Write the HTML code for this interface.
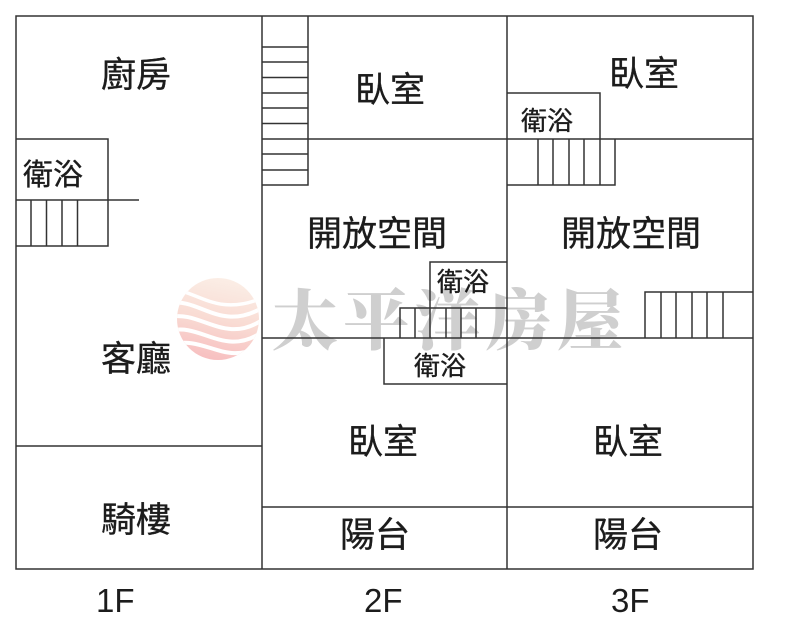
<!DOCTYPE html>
<html><head><meta charset="utf-8">
<style>
html,body{margin:0;padding:0;background:#fff;width:800px;height:639px;overflow:hidden}
svg{display:block}
.l{font-family:"Liberation Sans","Noto Sans CJK TC",sans-serif;fill:#1c1c1c;font-weight:400}
.c{stroke:#1c1c1c;stroke-width:0.35}
.w{font-family:"Liberation Serif","Noto Serif CJK SC",serif;font-weight:900;fill:#cfcfcf}
</style></head><body>
<svg width="800" height="639" viewBox="0 0 800 639" xmlns="http://www.w3.org/2000/svg">
<defs>
<linearGradient id="g" x1="0.6" y1="0" x2="0.4" y2="1">
<stop offset="0" stop-color="#fbeee6"/><stop offset="0.5" stop-color="#f9dcd4"/><stop offset="1" stop-color="#f7bfc0"/>
</linearGradient>
<clipPath id="c"><circle cx="218" cy="319" r="41"/></clipPath>
</defs>
<circle cx="218" cy="319" r="41" fill="url(#g)"/>
<g clip-path="url(#c)" fill="none" stroke="#fff" stroke-width="4">
<path d="M170 290C195 288 215 318 262 298" stroke-width="3.5"/>
<path d="M170 303C200 298 220 332 262 308"/>
<path d="M170 317C200 310 225 345 262 320"/>
<path d="M170 331C200 322 225 358 262 332"/>
<path d="M170 345C205 334 225 368 262 345"/>
</g>
<text class="w" x="272" y="344" font-size="66" textLength="351" lengthAdjust="spacing">太平洋房屋</text>
<g fill="none" stroke="#333" stroke-width="1.5">
<rect x="16" y="16" width="737" height="553"/>
<path d="M262 16V569M507 16V569"/>
<path d="M262 139H753M262 338H753M262 507H753M16 446H262"/>
<!-- 1F -->
<path d="M16 139H108V246H16M16 200H139M31 200V246M46.500 200V246M62 200V246M77.500 200V246"/>
<!-- top stairs -->
<path d="M308 16V185H262M262 47H308M262 62H308M262 77.500H308M262 93H308M262 108H308M262 123.500H308M262 154H308M262 170H308"/>
<!-- 3F top -->
<path d="M507 93H600V139M507 185H615V139M538 139V185M553 139V185M569 139V185M584 139V185M600 139V185"/>
<!-- mid -->
<path d="M430 308V262H507M400 338V308H507M415 308V338M430 308V338M446 308V338M461 308V338M476 308V338M384 338V384H507"/>
<!-- right -->
<path d="M645 338V292H753M661 292V338M676 292V338M692 292V338M707 292V338M723 292V338"/>
</g>
<g class="l" font-size="35">
<text class="c" x="101" y="87">廚房</text>
<text class="c" x="355" y="102">臥室</text>
<text class="c" x="609" y="86">臥室</text>
<text class="c" x="307" y="246">開放空間</text>
<text class="c" x="561" y="246">開放空間</text>
<text class="c" x="101" y="371">客廳</text>
<text class="c" x="348" y="454">臥室</text>
<text class="c" x="593" y="454">臥室</text>
<text class="c" x="101" y="532">騎樓</text>
<text class="c" x="340" y="547">陽台</text>
<text class="c" x="593" y="547">陽台</text>
<text class="c" x="23" y="185" font-size="30">衛浴</text>
<text class="c" x="521" y="130" font-size="26">衛浴</text>
<text class="c" x="437" y="291" font-size="26">衛浴</text>
<text class="c" x="414" y="375" font-size="26">衛浴</text>
<text x="96" y="612" font-size="33">1F</text>
<text x="364" y="612" font-size="33">2F</text>
<text x="611" y="612" font-size="33">3F</text>
</g>
</svg>
</body></html>
